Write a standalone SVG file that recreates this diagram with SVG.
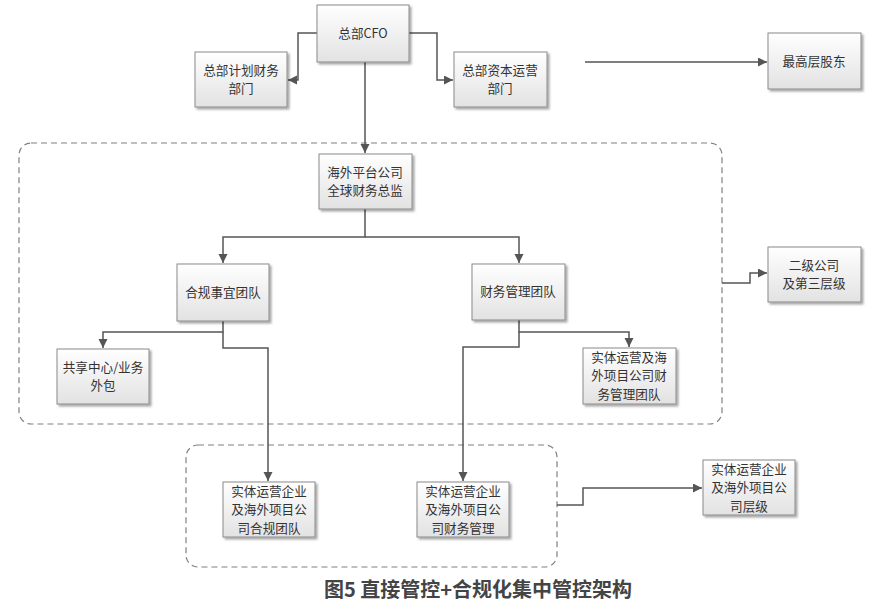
<svg xmlns="http://www.w3.org/2000/svg" width="879" height="607" viewBox="0 0 879 607">
<style>
.box{fill:url(#g);stroke:#8a8a8a;stroke-width:1;filter:url(#sh)}
.t{font-family:"Noto Sans CJK SC","Noto Sans",sans-serif;font-size:12.6px;fill:#333;text-anchor:middle}
.c{fill:none;stroke:#555;stroke-width:1.5}
.d{fill:none;stroke:#808080;stroke-width:1.2;stroke-dasharray:6 4}
.cap{font-family:"Noto Sans CJK SC","Noto Sans",sans-serif;font-size:20px;font-weight:bold;fill:#444;text-anchor:middle}
</style>
<defs>
<linearGradient id="g" x1="0" y1="0" x2="0" y2="1">
<stop offset="0" stop-color="#ffffff"/>
<stop offset="1" stop-color="#e2e2e2"/>
</linearGradient>
<filter id="sh" x="-10%" y="-10%" width="130%" height="130%">
<feDropShadow dx="2" dy="2" stdDeviation="1.2" flood-color="#000" flood-opacity="0.35"/>
</filter>
<marker id="a" markerUnits="userSpaceOnUse" markerWidth="10" markerHeight="10" refX="9" refY="4.5" orient="auto">
<path d="M0,0 L9,4.5 L0,9 z" fill="#555"/>
</marker>
</defs>
<rect width="879" height="607" fill="#fff"/>
<g id="regions">
<rect class="d" x="19" y="143" width="703" height="281" rx="12"/>
<rect class="d" x="186" y="445" width="371" height="122" rx="12"/>
</g>
<g id="connectors">
<path class="c" d="M317,33 H298 V80 H288" marker-end="url(#a)"/>
<path class="c" d="M409,33 H437 V80 H453" marker-end="url(#a)"/>
<path class="c" d="M365,62 V153" marker-end="url(#a)"/>
<path class="c" d="M585,62 H767" marker-end="url(#a)"/>
<path class="c" d="M365,209 V237 H223 V263" marker-end="url(#a)"/>
<path class="c" d="M365,237 H519 V263" marker-end="url(#a)"/>
<path class="c" d="M223,321 V332 H103 V348" marker-end="url(#a)"/>
<path class="c" d="M223,332 V348 H268 V481" marker-end="url(#a)"/>
<path class="c" d="M519,320 V332 H629 V347" marker-end="url(#a)"/>
<path class="c" d="M519,332 V347 H463 V481" marker-end="url(#a)"/>
<path class="c" d="M722,283 H750 V273 H767" marker-end="url(#a)"/>
<path class="c" d="M557,505 H583 V488 H702" marker-end="url(#a)"/>
</g>
<g id="cfo"><rect class="box" x="317" y="5" width="92" height="57"/><text class="t" x="363" y="38">总部CFO</text></g>
<g id="plan"><rect class="box" x="195" y="52" width="92" height="55"/><text class="t" x="241" y="75">总部计划财务<tspan x="241" dy="18.4">部门</tspan></text></g>
<g id="capital"><rect class="box" x="454" y="52" width="93" height="55"/><text class="t" x="500" y="75">总部资本运营<tspan x="500" dy="18.4">部门</tspan></text></g>
<g id="shareholder"><rect class="box" x="768" y="33" width="93" height="56"/><text class="t" x="814" y="66">最高层股东</text></g>
<g id="overseas"><rect class="box" x="319" y="154" width="93" height="55"/><text class="t" x="365" y="177">海外平台公司<tspan x="365" dy="18.4">全球财务总监</tspan></text></g>
<g id="compliance"><rect class="box" x="177" y="264" width="92" height="57"/><text class="t" x="223" y="297">合规事宜团队</text></g>
<g id="finance"><rect class="box" x="472" y="264" width="93" height="56"/><text class="t" x="518" y="296">财务管理团队</text></g>
<g id="shared"><rect class="box" x="57" y="349" width="92" height="55"/><text class="t" x="103" y="372">共享中心/业务<tspan x="103" dy="18.4">外包</tspan></text></g>
<g id="entityfinteam"><rect class="box" x="583" y="348" width="93" height="56"/><text class="t" x="629" y="362">实体运营及海<tspan x="629" dy="18.4">外项目公司财</tspan><tspan x="629" dy="18.4">务管理团队</tspan></text></g>
<g id="level2"><rect class="box" x="768" y="247" width="93" height="55"/><text class="t" x="814" y="270">二级公司<tspan x="814" dy="18.4">及第三层级</tspan></text></g>
<g id="entitycompliance"><rect class="box" x="223" y="482" width="92" height="55"/><text class="t" x="269" y="496">实体运营企业<tspan x="269" dy="18.4">及海外项目公</tspan><tspan x="269" dy="18.4">司合规团队</tspan></text></g>
<g id="entityfinance"><rect class="box" x="417" y="482" width="92" height="55"/><text class="t" x="463" y="496">实体运营企业<tspan x="463" dy="18.4">及海外项目公</tspan><tspan x="463" dy="18.4">司财务管理</tspan></text></g>
<g id="entitylevel"><rect class="box" x="703" y="460" width="92" height="55"/><text class="t" x="749" y="474">实体运营企业<tspan x="749" dy="18.4">及海外项目公</tspan><tspan x="749" dy="18.4">司层级</tspan></text></g>
<text class="cap" x="478" y="597">图5 直接管控+合规化集中管控架构</text>
</svg>
